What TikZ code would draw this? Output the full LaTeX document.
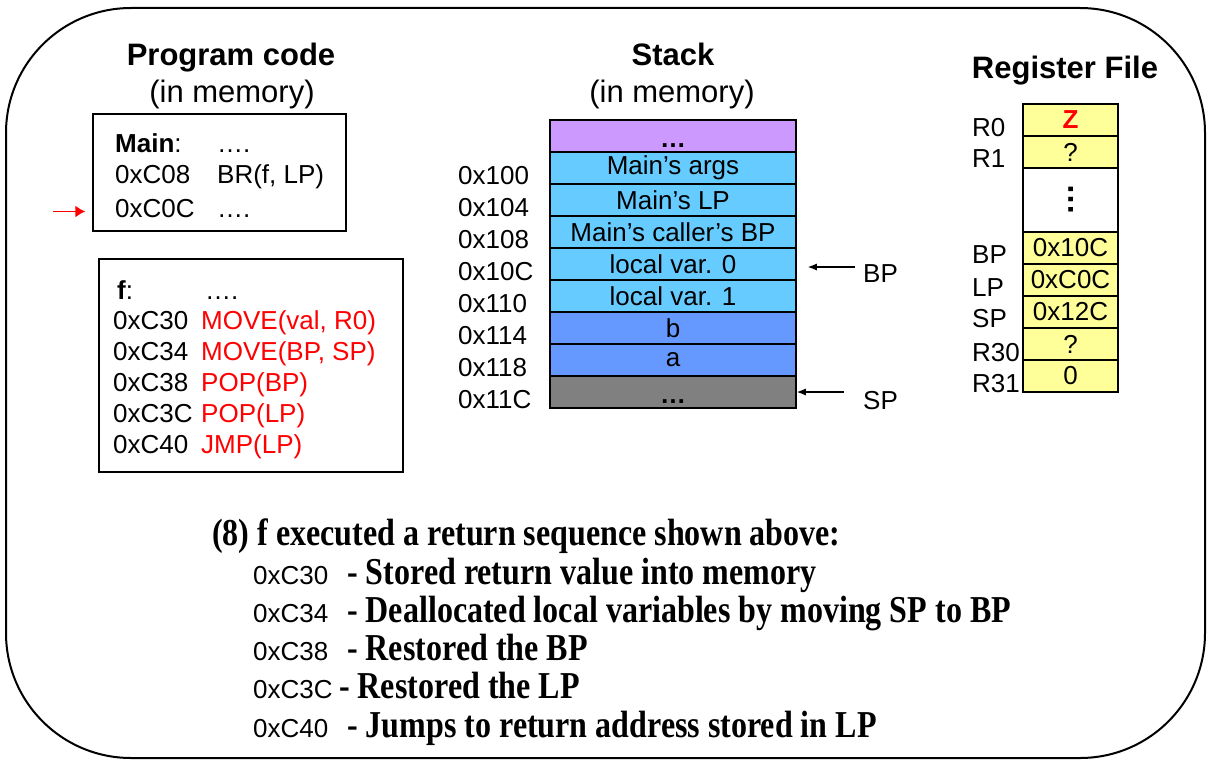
\documentclass[tikz,border=0pt]{standalone}
\usepackage{fontspec}
\setmainfont{Liberation Sans}
\newfontfamily\narrowserif[FakeStretch=0.843]{Liberation Serif}
\usetikzlibrary{arrows.meta}

\definecolor{stackpurple}{RGB}{204,153,255}
\definecolor{stackcyan}{RGB}{102,204,255}
\definecolor{stackblue}{RGB}{102,153,255}
\definecolor{stackgrey}{RGB}{128,128,128}
\definecolor{regyellow}{RGB}{255,255,153}

\begin{document}
\begin{tikzpicture}[x=1pt, y=-1pt,
  txt/.style={inner sep=0pt, anchor=base west, font=\fontsize{26}{30}\selectfont},
  title/.style={inner sep=0pt, anchor=base, font=\fontsize{31}{36}\selectfont},
  slot/.style={draw, line width=1.5pt, minimum width=246pt, minimum height=32pt, inner sep=0pt, font=\fontsize{26}{30}\selectfont},
  dotslot/.style={slot, text height=22pt, text depth=0pt, font=\fontsize{26}{30}\selectfont\bfseries},
  reg/.style={draw, line width=1.5pt, fill=regyellow, minimum width=95pt, minimum height=32pt, inner sep=0pt, font=\fontsize{26}{30}\selectfont},
  note/.style={inner sep=0pt, anchor=base west, font=\fontsize{38}{44}\narrowserif\bfseries},
  ptr/.style={-{Latex[length=9pt, width=7pt]}, line width=1.2pt}]

  % Frame
  \useasboundingbox (0,0) rectangle (1210,760);
  \draw[line width=2pt, rounded corners=125pt] (6,8) rectangle (1205,758);

  % Program code
  \node[title] (codetitle) at (231,66) {\bfseries Program code};
  \node[title] (codesub) at (232,102) {(in memory)};
  \node[draw, line width=1.5pt, minimum width=253pt, minimum height=117pt] (mainbox) at (219.5,172.5) {};
  \node[txt] (mainlbl) at (115,152) {\bfseries Main\mdseries:};
  \node[txt] (maindots) at (217,152) {….};
  \node[txt] (c08) at (115,183) {0xC08};
  \node[txt] (c08ins) at (217,183) {BR(f, LP)};
  \node[txt] (c0c) at (115,217) {0xC0C};
  \node[txt] (c0cins) at (217,217) {….};
  \coordinate (pctail) at (53,211.5);
  \draw[-{Latex[length=10pt, width=12pt]}, red, line width=1.5pt] (pctail) -- ([xshift=-7pt]pctail -| mainbox.west);

  \node[draw, line width=1.5pt, minimum width=304pt, minimum height=213pt] (fbox) at (251,365.5) {};
  \node[txt] (flbl) at (117,299) {\bfseries f\mdseries:};
  \node[txt] (fdots) at (205,299) {….};
  \node[txt] (c30) at (113,329) {0xC30};
  \node[txt, red] (c30ins) at (201,329) {MOVE(val, R0)};
  \node[txt] (c34) at (113,360) {0xC34};
  \node[txt, red] (c34ins) at (201,360) {MOVE(BP, SP)};
  \node[txt] (c38) at (113,391) {0xC38};
  \node[txt, red] (c38ins) at (201,391) {POP(BP)};
  \node[txt] (c3c) at (113,422) {0xC3C};
  \node[txt, red] (c3cins) at (201,422) {POP(LP)};
  \node[txt] (c40) at (113,453) {0xC40};
  \node[txt, red] (c40ins) at (201,453) {JMP(LP)};

  % Stack
  \node[title] (stacktitle) at (673,66) {\bfseries Stack};
  \node[title] (stacksub) at (672,102) {(in memory)};
  \node[dotslot, fill=stackpurple] (top) at (673,136) {…};
  \node[slot, fill=stackcyan] (args) at (673,168) {Main’s args};
  \node[slot, fill=stackcyan] (mainlp) at (673,200) {Main’s LP};
  \node[slot, fill=stackcyan] (callerbp) at (673,232) {Main’s caller’s BP};
  \node[slot, fill=stackcyan] (lv0) at (673,264) {local var. 0};
  \node[slot, fill=stackcyan] (lv1) at (673,296) {local var. 1};
  \node[slot, fill=stackblue] (argb) at (673,328) {b};
  \node[slot, fill=stackblue] (arga) at (673,360) {a};
  \node[dotslot, fill=stackgrey] (free) at (673,392) {…};

  \node[txt] (a100) at (458,184) {0x100};
  \node[txt] (a104) at (458,216) {0x104};
  \node[txt] (a108) at (458,248) {0x108};
  \node[txt] (a10c) at (458,280) {0x10C};
  \node[txt] (a110) at (458,312) {0x110};
  \node[txt] (a114) at (458,344) {0x114};
  \node[txt] (a118) at (458,376) {0x118};
  \node[txt] (a11c) at (458,408) {0x11C};

  \node[txt] (bplbl) at (863,282) {BP};
  \coordinate (bptail) at (855,267);
  \draw[ptr] (bptail) -- ([xshift=11pt]bptail -| lv0.east);
  \node[txt] (splbl) at (863,409) {SP};
  \coordinate (sptail) at (844,392);
  \draw[ptr] (sptail) -- (sptail -| free.east);

  % Register file
  \node[title] (regtitle) at (1065,78) {\bfseries Register File};
  \node[reg] (r0) at (1070.5,120) {\color{red}\bfseries Z};
  \node[reg] (r1) at (1070.5,152) {?};
  \node[reg, fill=white, minimum height=64pt] (rdots) at (1070.5,200) {};
  \node[inner sep=0pt, rotate=90, font=\fontsize{32}{36}\selectfont\bfseries] (vdots) at (1071,199) {…};
  \node[reg] (rbp) at (1070.5,248) {0x10C};
  \node[reg] (rlp) at (1070.5,280) {0xC0C};
  \node[reg] (rsp) at (1070.5,312) {0x12C};
  \node[reg] (r30) at (1070.5,344) {?};
  \node[reg] (r31) at (1070.5,376) {0};

  \node[txt] (nr0) at (972,136) {R0};
  \node[txt] (nr1) at (972,167) {R1};
  \node[txt] (nbp) at (972,263) {BP};
  \node[txt] (nlp) at (972,296) {LP};
  \node[txt] (nsp) at (972,327) {SP};
  \node[txt] (nr30) at (972,361) {R30};
  \node[txt] (nr31) at (972,392) {R31};

  % Return sequence notes
  \node[note] (head) at (212,545) {(8) f executed a return sequence shown above:};
  \node[txt] (n30) at (253,584) {0xC30};
  \node[note] (d30) at (347,584) {- Stored return value into memory};
  \node[txt] (n34) at (253,622) {0xC34};
  \node[note] (d34) at (347,622) {- Deallocated local variables by moving SP to BP};
  \node[txt] (n38) at (253,660) {0xC38};
  \node[note] (d38) at (347,660) {- Restored the BP};
  \node[txt] (n3c) at (253,698) {0xC3C};
  \node[note] (d3c) at (339,698) {- Restored the LP};
  \node[txt] (n40) at (253,737) {0xC40};
  \node[note] (d40) at (347,737) {- Jumps to return address stored in LP};
\end{tikzpicture}
\end{document}
